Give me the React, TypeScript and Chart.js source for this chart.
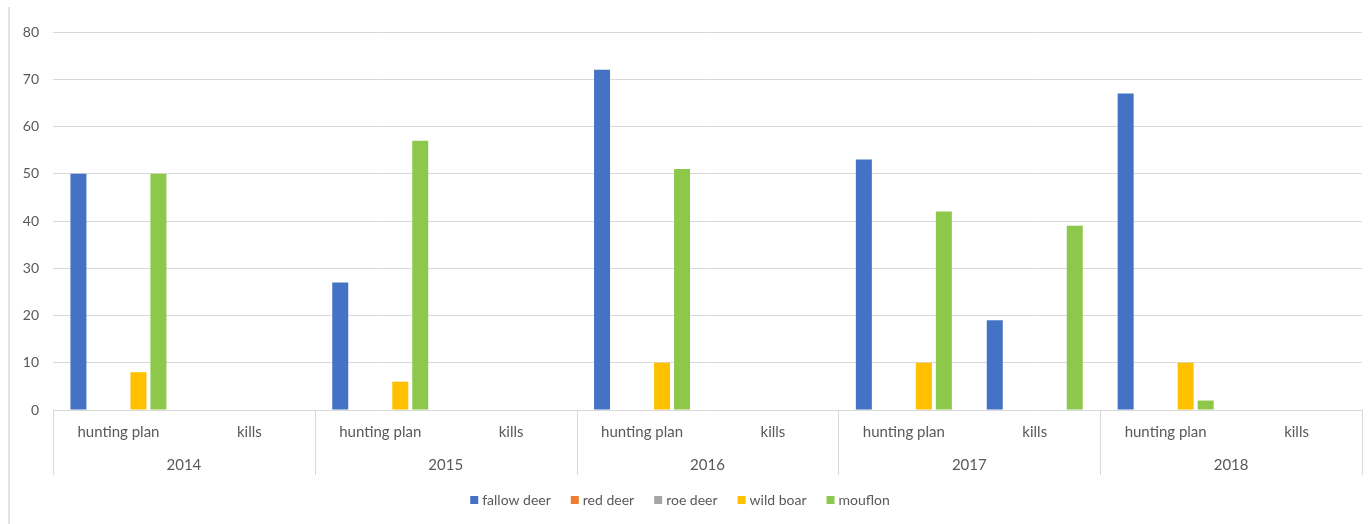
import React, { useEffect, useRef } from "react";
import { Chart, registerables } from "chart.js";

Chart.register(...registerables);

const years = ["2014", "2015", "2016", "2017", "2018"];
const subLabels = ["hunting plan", "kills"];
const categories = years.flatMap((y) => subLabels.map((s) => `${s} ${y}`));

const fallowDeer = [50, 0, 27, 0, 72, 0, 53, 19, 67, 0];
const redDeer = [0, 0, 0, 0, 0, 0, 0, 0, 0, 0];
const roeDeer = [0, 0, 0, 0, 0, 0, 0, 0, 0, 0];
const wildBoar = [8, 0, 6, 0, 10, 0, 10, 0, 10, 0];
const mouflon = [50, 0, 57, 0, 51, 0, 42, 39, 2, 0];

const seriesNames = ["fallow deer", "red deer", "roe deer", "wild boar", "mouflon"];
const seriesColors = ["#4472C4", "#ED7D31", "#A5A5A5", "#FFC000", "#8DC84B"];
const yTicks = [0, 10, 20, 30, 40, 50, 60, 70, 80];

const FONT = "Lato, 'Noto Sans', sans-serif";
const TEXT = "#595959";
const GRID = "#d9d9d9";

const multiLevelPlugin = {
  id: "multiLevel",
  afterDraw(chart: any) {
    const { ctx, chartArea, scales } = chart;
    const x = scales.x;
    const n = categories.length;
    const catW = (chartArea.right - chartArea.left) / n;
    ctx.save();
    ctx.font = `15px ${FONT}`;
    ctx.fillStyle = TEXT;
    ctx.textAlign = "center";
    ctx.textBaseline = "middle";
    for (let i = 0; i < n; i++) {
      const px = x.getPixelForValue(i);
      ctx.fillText(subLabels[i % subLabels.length], px, chartArea.bottom + 22);
    }
    for (let k = 0; k < years.length; k++) {
      const a = x.getPixelForValue(k * 2);
      const b = x.getPixelForValue(k * 2 + 1);
      ctx.fillText(years[k], (a + b) / 2, chartArea.bottom + 55);
    }
    ctx.strokeStyle = GRID;
    ctx.lineWidth = 1;
    for (let k = 0; k <= years.length; k++) {
      const px = Math.round(chartArea.left + k * 2 * catW) + 0.5;
      ctx.beginPath();
      ctx.moveTo(px, chartArea.bottom);
      ctx.lineTo(px, chartArea.bottom + 65);
      ctx.stroke();
    }
    // legend
    ctx.font = `14px ${FONT}`;
    ctx.textAlign = "left";
    const box = 8;
    const gapBox = 4;
    const gapItem = 20;
    const widths = seriesNames.map((s) => box + gapBox + ctx.measureText(s).width);
    const total = widths.reduce((a, b) => a + b, 0) + gapItem * (seriesNames.length - 1);
    let cx = 680 - total / 2;
    const ly = 500;
    seriesNames.forEach((s, i) => {
      ctx.fillStyle = seriesColors[i];
      ctx.fillRect(cx, ly - box / 2, box, box);
      ctx.fillStyle = TEXT;
      ctx.fillText(s, cx + box + gapBox, ly);
      cx += widths[i] + gapItem;
    });
    ctx.restore();
  },
};

export default function App() {
  const ref = useRef<HTMLCanvasElement | null>(null);
  useEffect(() => {
    if (!ref.current) return;
    const data = [fallowDeer, redDeer, roeDeer, wildBoar, mouflon];
    const chart = new Chart(ref.current, {
      type: "bar",
      data: {
        labels: categories,
        datasets: seriesNames.map((name, i) => ({
          label: name,
          data: data[i],
          backgroundColor: seriesColors[i],
          borderWidth: 0,
          barPercentage: 0.8,
          categoryPercentage: 0.764,
        })),
      },
      plugins: [multiLevelPlugin],
      options: {
        responsive: false,
        animation: false,
        devicePixelRatio: 1,
        layout: { padding: { left: 0, right: 8, top: 32, bottom: 0 } },
        plugins: {
          legend: { display: false },
          tooltip: { enabled: false },
        },
        scales: {
          x: {
            grid: { display: false },
            border: { display: false },
            ticks: { display: false },
            afterFit(scale: any) {
              scale.height = 114;
            },
          },
          y: {
            min: 0,
            max: 80,
            afterBuildTicks(scale: any) {
              scale.ticks = yTicks.map((v) => ({ value: v }));
            },
            grid: { color: GRID, lineWidth: 1, drawTicks: false },
            border: { display: false },
            ticks: {
              color: TEXT,
              font: { family: FONT, size: 14 },
              padding: 14,
            },
            afterFit(scale: any) {
              scale.width = 53;
            },
          },
        },
      },
    });
    return () => chart.destroy();
  }, []);
  return (
    <div style={{ position: "fixed", left: 0, top: 0, width: 1370, height: 524, background: "#fff" }}>
      <div style={{ position: "absolute", left: 8, top: 7, width: 0, height: 517, borderLeft: "2px solid #e2e2e2" }} />
      <canvas ref={ref} width={1370} height={524} style={{ position: "absolute", left: 0, top: 0 }} />
    </div>
  );
}
